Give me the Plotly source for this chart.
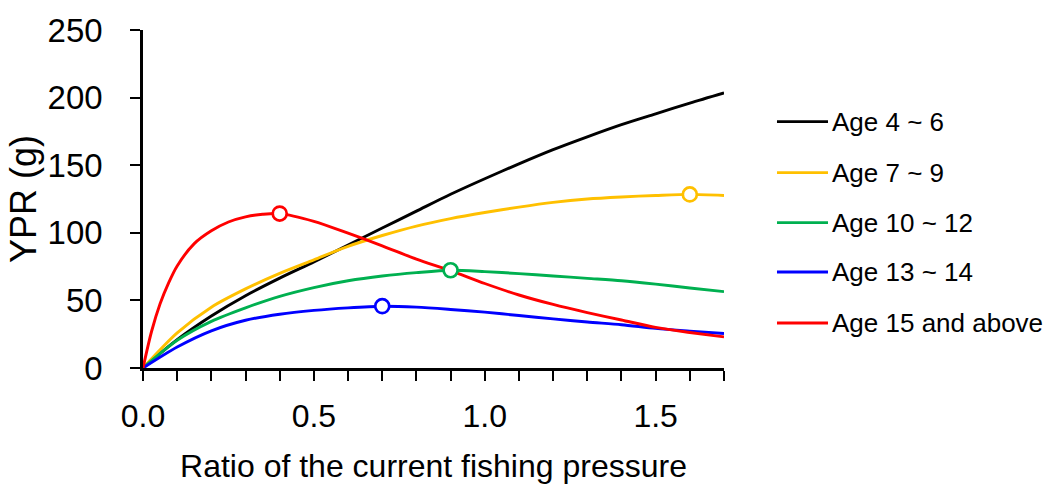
import plotly.graph_objects as go

# Fishing pressure ratio (x) and yield-per-recruit (g) for each age class
ratio = [0.0, 0.1, 0.2, 0.3, 0.4, 0.5, 0.6, 0.7, 0.8, 0.9,
         1.0, 1.1, 1.2, 1.3, 1.4, 1.5, 1.6, 1.7]

age_4_6 = [0, 21, 38.5, 53.5, 66.5, 78.5, 91, 103.5, 116, 128.5,
           140, 151, 161.5, 171, 180, 188, 196, 203.5]
age_7_9 = [0, 26, 45, 58.5, 70, 80, 90, 98, 105, 110.5,
           115, 119, 122.5, 125, 126.5, 127.6, 128.4, 127.6]
age_10_12 = [0, 20.5, 34.5, 44.5, 53, 59.5, 64.5, 68, 70.5, 72.3,
             71.3, 69.8, 68.1, 66.3, 64.5, 62, 59.2, 56.5]
age_13_14 = [0, 15.5, 27.5, 35.3, 39.8, 42.6, 44.5, 45.7, 45, 43.3,
             41.3, 38.8, 36.3, 34, 32, 29.3, 27.3, 25.5]

# The oldest class rises very steeply, so it is sampled more finely near zero
ratio_15_up = [0.0, 0.025, 0.05, 0.075, 0.1, 0.15, 0.2, 0.25, 0.3, 0.35, 0.4,
               0.5, 0.6, 0.7, 0.8, 0.9, 1.0, 1.1, 1.2, 1.3, 1.4, 1.5, 1.6, 1.7]
age_15_up = [0, 27, 47.5, 63, 75.5, 92, 101.5, 108, 111.8, 113.7, 114.2,
             108.5, 99.7, 90.4, 80.5, 72, 62.5, 54, 47, 41, 35.5, 30, 26.3, 23]

series_names = ["Age 4 ~ 6", "Age 7 ~ 9", "Age 10 ~ 12", "Age 13 ~ 14", "Age 15 and above"]
series_x = [ratio, ratio, ratio, ratio, ratio_15_up]
series_values = [age_4_6, age_7_9, age_10_12, age_13_14, age_15_up]
series_colors = ["#000000", "#FFC000", "#00B050", "#0000FF", "#FF0000"]
# Ratio at which each curve gets a highlighted point (None = no point)
peak_ratio = [None, 1.6, 0.9, 0.7, 0.4]

x_ticks = [0.0, 0.5, 1.0, 1.5]
y_ticks = [0, 50, 100, 150, 200, 250]

FONT = "Liberation Sans, Arial, sans-serif"

fig = go.Figure()

for name, xs, vals, color in zip(series_names, series_x, series_values, series_colors):
    fig.add_trace(go.Scatter(
        x=xs, y=vals, mode="lines", name=name,
        line=dict(color=color, width=2.9, shape="spline", smoothing=0.8),
        showlegend=False, hoverinfo="x+y+name",
    ))

for name, xs, vals, color, px in zip(series_names, series_x, series_values,
                                     series_colors, peak_ratio):
    if px is None:
        continue
    i = min(range(len(xs)), key=lambda k: abs(xs[k] - px))
    fig.add_trace(go.Scatter(
        x=[xs[i]], y=[vals[i]], mode="markers", name=name,
        marker=dict(symbol="circle", size=14, color="white",
                    line=dict(color=color, width=2.7)),
        showlegend=False, cliponaxis=False,
    ))

# Legend drawn as short line samples with labels to the right of the plot
legend_y = [0.729, 0.578, 0.430, 0.284, 0.133]
for name, color, ly in zip(series_names, series_colors, legend_y):
    fig.add_shape(type="line", xref="paper", yref="paper",
                  x0=1.0912, x1=1.179, y0=ly, y1=ly,
                  line=dict(color=color, width=2.9))
    fig.add_annotation(xref="paper", yref="paper", x=1.182, y=ly,
                       text=name, showarrow=False, xanchor="left", yanchor="middle",
                       font=dict(family=FONT, size=26, color="#000000"))

fig.update_layout(
    width=1057, height=491,
    margin=dict(l=143, r=333, t=25, b=118),
    paper_bgcolor="white", plot_bgcolor="white",
    font=dict(family=FONT, color="#000000"),
    showlegend=False,
)

fig.update_xaxes(
    range=[0, 1.7], tickvals=x_ticks, tickformat=".1f",
    showgrid=False, zeroline=False,
    showline=True, linecolor="#000000", linewidth=2.5,
    ticks="outside", ticklen=10, tickwidth=2.2, tickcolor="#000000",
    minor=dict(dtick=0.1, tick0=0, ticks="outside", ticklen=10, tickwidth=2.2, tickcolor="#000000"),
    tickfont=dict(family=FONT, size=32, color="#000000"),
    ticklabelstandoff=8,
    title=dict(text="Ratio of the current fishing pressure",
               font=dict(family=FONT, size=32, color="#000000"), standoff=22),
)

fig.update_yaxes(
    range=[0, 250], tickvals=y_ticks,
    showgrid=False, zeroline=False,
    showline=True, linecolor="#000000", linewidth=2.5,
    ticks="outside", ticklen=10, tickwidth=2.2, tickcolor="#000000",
    tickfont=dict(family=FONT, size=33, color="#000000"),
    ticklabelstandoff=21,
    title=dict(text="YPR (g)", font=dict(family=FONT, size=36, color="#000000"), standoff=0),
)

fig.write_html("out.html")
